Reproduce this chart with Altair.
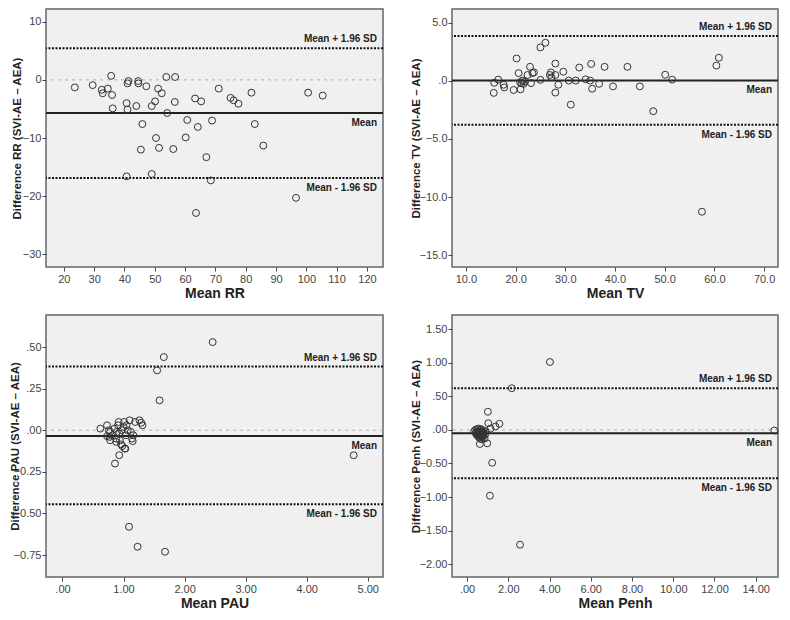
import altair as alt
import pandas as pd

# ---------------- data ----------------
rr_mean = [23.6, 29.5, 32.5, 32.8, 34.5, 35.6, 35.9, 36.1, 40.7, 41.0, 41.3, 41.0, 40.7, 43.9, 44.5,
           44.6, 45.9, 45.4, 47.2, 49.0, 50.1, 49.0, 50.4, 51.1, 51.4, 52.3, 53.8, 54.1, 56.7, 56.6,
           56.1, 60.7, 60.2, 63.3, 64.2, 63.6, 65.3, 67.0, 68.9, 68.5, 71.1, 75.0, 76.0, 77.6, 81.9,
           83.0, 85.8, 96.6, 100.6, 105.4]
rr_diff = [-1.3, -0.9, -1.7, -2.3, -1.5, 0.7, -2.6, -4.9, -4.0, -0.6, -0.2, -5.1, -16.6, -4.5, -0.2,
           -0.6, -7.6, -12.0, -1.1, -4.5, -3.7, -16.2, -10.0, -1.5, -11.7, -2.3, 0.5, -5.7, 0.5, -3.8,
           -11.9, -6.9, -9.9, -3.2, -8.1, -22.9, -3.7, -13.3, -7.0, -17.3, -1.5, -3.1, -3.5, -4.1, -2.2,
           -7.6, -11.3, -20.3, -2.2, -2.7]
rr_lines = [-5.7, 5.45, -16.9]  # mean, mean+1.96SD, mean-1.96SD

tv_mean = [15.6, 15.7, 16.5, 17.6, 17.7, 19.6, 20.2, 20.6, 20.9, 21.0, 21.2, 21.4, 21.6, 21.9, 22.4,
           22.9, 23.1, 23.4, 23.7, 25.0, 25.0, 26.0, 26.9, 27.1, 27.2, 28.0, 28.0, 28.0, 28.6, 29.6,
           30.7, 31.1, 32.1, 32.8, 34.1, 35.0, 35.2, 35.4, 36.8, 37.9, 39.6, 42.5, 45.0, 47.7, 50.1,
           51.5, 60.4, 60.9, 57.5]
tv_diff = [-1.04, -0.17, 0.1, -0.34, -0.57, -0.79, 1.92, 0.66, -0.12, -0.73, -0.2, 0.02, -0.26, -0.06, 0.5,
           1.2, -0.2, 0.66, 0.72, 2.87, 0.08, 3.27, 0.5, 0.72, 0.3, 0.5, 1.48, -1.01, -0.34, 0.78,
           0.02, -2.05, 0.02, 1.14, 0.13, 0.02, 1.45, -0.68, -0.26, 1.2, -0.48, 1.2, -0.48, -2.61, 0.52,
           0.1, 1.31, 1.98, -11.25]
tv_lines = [0.03, 3.85, -3.78]

pau_mean = [2.46, 1.66, 1.55, 1.59, 4.77, 1.09, 1.23, 1.68, 0.86, 0.93,
            0.62, 0.73, 0.76, 0.78, 0.77, 0.78, 0.82, 0.85, 0.88, 0.88, 0.91, 0.92, 0.93, 0.94, 0.96,
            0.98, 1.00, 1.01, 1.03, 1.04, 1.05, 1.07, 1.10, 1.12, 1.14, 1.15, 1.16, 1.19, 1.26, 1.29,
            1.31, 0.89, 0.73, 0.97, 1.02]
pau_diff = [0.53, 0.44, 0.36, 0.18, -0.15, -0.58, -0.70, -0.73, -0.20, -0.15,
            0.01, 0.03, 0.00, -0.01, -0.04, -0.06, -0.03, 0.01, -0.05, -0.07, 0.03, 0.05, -0.02, -0.06, -0.085,
            -0.095, 0.02, 0.05, -0.11, -0.03, 0.03, 0.00, 0.06, -0.01, -0.05, -0.065, -0.03, 0.05, 0.06, 0.045,
            0.03, -0.01, -0.035, 0.0, -0.11]
pau_lines = [-0.034, 0.383, -0.444]

penh_mean = [4.02, 2.17, 1.01, 1.57, 1.03, 1.38, 1.14, 14.9, 1.22, 1.11, 2.57, 0.98, 0.62,
             0.35, 0.40, 0.42, 0.45, 0.48, 0.50, 0.50, 0.52, 0.55, 0.55, 0.58, 0.60, 0.60, 0.62, 0.63,
             0.65, 0.65, 0.67, 0.68, 0.70, 0.70, 0.72, 0.73, 0.75, 0.76, 0.78, 0.80, 0.82, 0.85, 0.88,
             0.90, 0.55, 0.62, 0.70, 0.58, 0.66, 0.74]
penh_diff = [1.01, 0.62, 0.27, 0.09, 0.10, 0.05, 0.02, -0.01, -0.49, -0.98, -1.71, -0.20, -0.21,
             -0.02, 0.00, -0.05, -0.03, -0.08, 0.01, -0.06, -0.04, -0.10, 0.02, -0.07, -0.03, -0.12, 0.00, -0.05,
             -0.09, -0.02, -0.06, -0.14, -0.04, 0.01, -0.08, -0.11, -0.03, -0.06, -0.01, -0.09, -0.05, -0.13, -0.07,
             -0.02, -0.05, -0.08, -0.10, -0.03, -0.04, -0.06]
penh_lines = [-0.05, 0.62, -0.72]

FONT = "Liberation Sans"


def lead_zero_expr(fmt):
    return "replace(format(datum.value, '%s'), regexp('^(-?)0[.]'), '$1.')" % fmt


def panel(xs, ys, lines, xdom, ydom, xticks, yticks, xfmt, yfmt, xtitle, ytitle, w, h, yext):
    pts = pd.DataFrame({"x": xs, "y": ys})
    xscale = alt.Scale(domain=xdom, nice=False, zero=False)
    yscale = alt.Scale(domain=ydom, nice=False, zero=False)
    xaxis = alt.Axis(values=xticks, labelExpr=lead_zero_expr(xfmt), title=xtitle, grid=False,
                     labelOverlap=False)
    yaxis = alt.Axis(values=yticks, labelExpr=lead_zero_expr(yfmt), title=ytitle, grid=False,
                     labelOverlap=False, minExtent=yext, maxExtent=yext)

    points = alt.Chart(pts).mark_point(shape="circle", filled=False, size=48,
                                       color="#333333", strokeWidth=1, opacity=1).encode(
        x=alt.X("x:Q", scale=xscale, axis=xaxis),
        y=alt.Y("y:Q", scale=yscale, axis=yaxis),
    )

    yaux = alt.Y("v:Q", scale=yscale, axis=yaxis)
    zero = alt.Chart(pd.DataFrame({"v": [0]})).mark_rule(
        color="#b0b0b0", strokeDash=[3, 4], strokeWidth=1).encode(y=yaux)
    mean = alt.Chart(pd.DataFrame({"v": [lines[0]]})).mark_rule(
        color="#222222", strokeWidth=2).encode(y=yaux)
    lims = alt.Chart(pd.DataFrame({"v": lines[1:]})).mark_rule(
        color="#111111", strokeDash=[2, 1.5], strokeWidth=2).encode(y=yaux)

    lab_up = alt.Chart(pd.DataFrame({"v": [lines[1]], "t": ["Mean + 1.96 SD"]})).mark_text(
        align="right", baseline="bottom", dy=-4, font=FONT, fontSize=10, fontWeight="bold",
        color="#222222").encode(x=alt.value(w - 6), y=yaux, text="t:N")
    lab_dn = alt.Chart(pd.DataFrame({"v": [lines[0], lines[2]], "t": ["Mean", "Mean - 1.96 SD"]})).mark_text(
        align="right", baseline="top", dy=5, font=FONT, fontSize=10, fontWeight="bold",
        color="#222222").encode(x=alt.value(w - 6), y=yaux, text="t:N")

    return alt.layer(zero, mean, lims, points, lab_up, lab_dn).properties(width=w, height=h)


p1 = panel(rr_mean, rr_diff, rr_lines, [14.1, 125.3], [-32.2, 12.2],
           list(range(20, 121, 10)), [10, 0, -10, -20, -30], "d", "d",
           "Mean RR", "Difference RR (SVI-AE \u2013 AEA)", 337, 258, 22)
p2 = panel(tv_mean, tv_diff, tv_lines, [7.2, 72.8], [-16.0, 6.17],
           [10, 20, 30, 40, 50, 60, 70], [5, 0, -5, -10, -15], ".1f", ".1f",
           "Mean TV", "Difference TV (SVI-AE \u2013 AEA)", 326, 258, 29)
p3 = panel(pau_mean, pau_diff, pau_lines, [-0.27, 5.25], [-0.882, 0.693],
           [0, 1, 2, 3, 4, 5], [0.5, 0.25, 0, -0.25, -0.5, -0.75], ".2f", ".2f",
           "Mean PAU", "Difference PAU (SVI-AE \u2013 AEA)", 337, 262, 24)
p4 = panel(penh_mean, penh_diff, penh_lines, [-0.73, 15.08], [-2.19, 1.71],
           [0, 2, 4, 6, 8, 10, 12, 14], [1.5, 1.0, 0.5, 0, -0.5, -1.0, -1.5, -2.0], ".2f", ".2f",
           "Mean Penh", "Difference Penh (SVI-AE \u2013 AEA)", 326, 262, 29)

chart = alt.concat(
    p1, p2, p3, p4, columns=2, spacing={"row": 48, "column": 69}, bounds="flush", align="each"
).properties(padding=0).configure_view(
    fill="#f0f0f0", stroke="#666666", strokeWidth=1.5
).configure_axis(
    domain=False, tickColor="#444444", tickSize=4, labelFont=FONT, labelFontSize=11,
    labelColor="#444444", titleFont=FONT, titleFontSize=11.5, titleFontWeight="bold",
    titleColor="#222222", labelPadding=1, titlePadding=2
).configure_axisX(titleFontSize=14, titlePadding=2, labelPadding=2)

chart.save("out.html", embed_options={"renderer": "svg", "actions": False})
